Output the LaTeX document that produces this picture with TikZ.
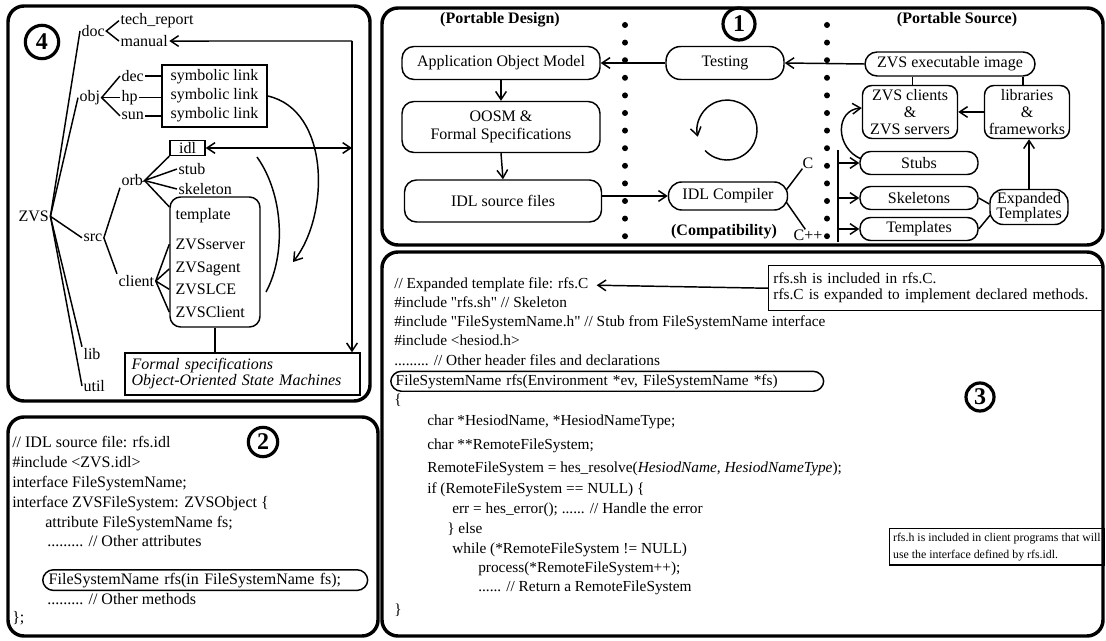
\documentclass[tikz,border=0pt]{standalone}
\usepackage{fontspec}
\setmainfont{Liberation Serif}[Ligatures=TeXOff]
\usetikzlibrary{arrows.meta}
\newcommand{\fsz}[2]{\fontsize{#1}{#2}\selectfont}
\begin{document}
\begin{tikzpicture}[x=0.75pt,y=-0.75pt,
  panel/.style={draw, line width=2.6pt, rounded corners=12pt},
  ln/.style={line width=1.1pt},
  arr/.style={line width=1.1pt, -{Straight Barb[length=6pt,width=8pt]}},
  darr/.style={line width=1.1pt, {Straight Barb[length=6pt,width=8pt]}-{Straight Barb[length=6pt,width=8pt]}},
  pbox/.style={draw, line width=1.1pt, align=center, inner sep=0pt, font=\fsz{12}{13}},
  tt/.style={anchor=base west, inner sep=1pt, font=\fsz{12}{13}},
  code/.style={anchor=base west, inner sep=0pt, font=\fsz{11.5}{13}},
  codeb/.style={anchor=base west, inner sep=0pt, font=\fsz{12}{13}},
  num/.style={circle, draw, line width=2.4pt, inner sep=0pt, font=\bfseries\fsz{18}{18}},
  hdr/.style={font=\bfseries\fsz{12}{13}, inner sep=0pt},
  note/.style={draw, line width=1.1pt, anchor=north west, align=left, inner xsep=3.5pt, inner ysep=2pt},
]
\useasboundingbox (0,0) rectangle (1106,641);
% panels
\draw[panel] (8,6) rectangle (370,401);
\draw[panel] (8,417) rectangle (378,636);
\draw[panel] (382,8) rectangle (1103,245);
\draw[panel] (382,252) rectangle (1103,636);

% ================= panel 1 =================
\node[hdr] (pdes) at (500,20) {(Portable Design)};
\node[hdr] (psrc) at (957,20) {(Portable Source)};
\node[hdr] (compat) at (724,232) {(Compatibility)};
\node[num, minimum size=24pt] (n1) at (739,24) {1};

\foreach \i in {0,...,12} {
  \fill (625,{25+17.6*\i}) circle (3);
  \fill (827,{25+17.6*\i}) circle (3);
}

\node[pbox, rounded corners=9pt, minimum width=148.5pt, minimum height=24.75pt] (aom) at (501,63) {Application Object Model};
\node[pbox, rounded corners=9pt, minimum width=148.5pt, minimum height=38.25pt, font=\fsz{12}{13.5}] (oosm) at (501,127) {OOSM \&\\Formal Specifications};
\node[pbox, rounded corners=9pt, minimum width=147.75pt, minimum height=31.5pt] (idlsrc) at (503,201) {IDL source files};
\node[pbox, rounded corners=11pt, minimum width=88.5pt, minimum height=24.75pt] (test) at (725,63) {Testing};
\node[pbox, rounded corners=9pt, minimum width=127.5pt, minimum height=18pt] (exe) at (950,64) {ZVS executable image};
\node[pbox, rounded corners=7pt, minimum width=71.25pt, minimum height=39.75pt] (cli) at (910,112) {ZVS clients\\\&\\ZVS servers};
\node[pbox, rounded corners=7pt, minimum width=63.75pt, minimum height=39.75pt] (lib) at (1027,112) {libraries\\\&\\frameworks};
\node[pbox, rounded corners=10pt, minimum width=89.25pt, minimum height=21pt] (comp) at (728,196) {IDL Compiler};
\node[pbox, rounded corners=8pt, minimum width=88.5pt, minimum height=17.25pt] (stubs) at (919,163) {Stubs};
\node[pbox, rounded corners=8pt, minimum width=88.5pt, minimum height=17.25pt] (skel) at (919,198) {Skeletons};
\node[pbox, rounded corners=8pt, minimum width=88.5pt, minimum height=17.25pt] (tmpl) at (919,229) {Templates};
\node[pbox, rounded corners=10pt, minimum width=58.5pt, minimum height=26.25pt, font=\fsz{12}{11}] (exp) at (1029,207) {Expanded\\Templates};
\node[inner sep=0pt, font=\fsz{12}{13}] (cl) at (808,163) {C};
\node[inner sep=0pt, font=\fsz{12}{13}] (cpp) at (808,235) {C++};

\draw[arr] (test.west) -- (aom.east);
\draw[arr] (exe.west) -- (test.east);
\draw[arr] (aom.south) -- (oosm.north);
\draw[arr] (oosm.south) -- (idlsrc.north);
\draw[arr] (idlsrc.east |- comp.west) -- (comp.west);
\draw[ln] ([xshift=2pt]cli.north) -- ([xshift=2pt]cli.north |- exe.south);
\draw[ln] ([xshift=-3pt]lib.north) -- ([xshift=-3pt]lib.north |- exe.south);
\draw[arr] (lib.west) -- (cli.east);
\draw[arr] (exp.north) -- (exp.north |- lib.south);
\draw[ln] ([shift={(-2,-6)}]comp.east) -- (cl.south west);
\draw[ln] ([shift={(-2,6)}]comp.east) -- ([xshift=-2pt]cpp.north);
\coordinate (bt) at (838,150);
\coordinate (bb) at (838,242);
\draw[ln] (bt) -- (bb);
\draw[arr] (stubs.west -| bt) -- (stubs.west);
\draw[arr] (skel.west -| bt) -- (skel.west);
\draw[arr] (tmpl.west -| bt) -- (tmpl.west);
\draw[ln] (skel.east) -- ([shift={(0,-3)}]exp.west);
\draw[ln] (tmpl.east) -- ([shift={(1,8)}]exp.west);
\draw[arr] ([shift={(2,-4)}]stubs.west) .. controls (835,148) and (835,110) .. ([yshift=3pt]cli.west);
\coordinate (cyc) at (705.1,150.5);
\draw[arr] (cyc) arc[start angle=137, end angle=-193, radius=30];

% ================= panel 4 =================
\node[num, minimum size=25pt] (n4) at (42,42) {4};
\node[tt] (zvs) at (17,221.5) {ZVS};
\node[tt] (doc) at (80,36.5) {doc};
\node[tt] (techr) at (119,24.5) {tech\_report};
\node[tt] (manual) at (119,46.5) {manual};
\node[tt] (obj) at (78,101.5) {obj};
\node[tt] (dec) at (120,81.5) {dec};
\node[tt] (hp) at (120,101.5) {hp};
\node[tt] (sun) at (120,119.5) {sun};
\node[draw, ln, minimum width=78.75pt, minimum height=46.5pt, align=center, inner sep=0pt, font=\fsz{12}{14.25}] (sym) at (214.5,96) {symbolic link\\symbolic link\\symbolic link};
\node[tt] (orb) at (120,186) {orb};
\node[draw, ln, minimum width=26.25pt, minimum height=11.25pt, inner sep=0pt, font=\fsz{12}{13}] (idl) at (187.5,148) {idl};
\node[tt] (stub) at (177,174.5) {stub};
\node[tt] (skeleton) at (177,194.5) {skeleton};
\node[draw, ln, rounded corners=8pt, minimum width=67.5pt, minimum height=97.5pt] (tbox) at (215,262) {};
\node[tt] (template) at (174,219.5) {template};
\node[tt] (zs) at (174,249.5) {ZVSserver};
\node[tt] (za) at (174,272.5) {ZVSagent};
\node[tt] (zl) at (174,294.5) {ZVSLCE};
\node[tt] (zc) at (174,317.5) {ZVSClient};
\node[tt] (client) at (117,286.5) {client};
\node[tt] (src) at (82,241.5) {src};
\node[tt] (libn) at (82,359.5) {lib};
\node[tt] (util) at (82,391.5) {util};
\node[draw, ln, minimum width=176.25pt, minimum height=31.5pt, align=left, inner xsep=5pt, inner ysep=0pt, text width=166.25pt, font=\itshape\fsz{12}{12}] (formal) at (242.5,374) {Formal specifications\\Object-Oriented State Machines};

\draw[ln] (zvs.east) -- (doc.west);
\draw[ln] (zvs.east) -- (obj.west);
\draw[ln] (zvs.east) -- (src.west);
\draw[ln] (zvs.east) -- (libn.north west);
\draw[ln] (zvs.east) -- (util.west);
\draw[ln] (techr.west) -- (doc.east) -- (manual.west);
\draw[ln] (dec.west) -- (obj.east) -- (sun.west);
\draw[ln] (obj.east) -- (hp.west);
\draw[ln] (dec.east) -- (dec.east -| sym.west);
\draw[ln] (hp.east) -- (hp.east -| sym.west);
\draw[ln] (sun.east) -- (sun.east -| sym.west);
\draw[ln] (orb.south west) -- (src.east) -- (client.north west);
\draw[ln] (idl.south west) -- (orb.east) -- (stub.west);
\draw[ln] (orb.east) -- (skeleton.west);
\draw[ln] (orb.east) -- (tbox.west |- template.north);
\draw[ln] (zs.west -| tbox.west) -- (client.east) -- (zc.west -| tbox.west);
\draw[ln] (client.east) -- (za.west -| tbox.west);
\draw[ln] (client.east) -- (zl.west -| tbox.west);
\draw[ln] (tbox.south) -- (tbox.south |- formal.north);
\coordinate (vtop) at (352,41);
\draw[arr] (vtop) -- (manual.east);
\draw[arr] (vtop) -- (vtop |- formal.north);
\draw[darr] (idl.east) -- (idl.east -| vtop);
\coordinate (symend) at (293,262);
\draw[arr] (sym.east) .. controls (330,110) and (330,215) .. (symend);
\coordinate (cva) at (257,157);
\coordinate (cvb) at (266,292);
\draw[ln] (cva) .. controls (284,195) and (286,255) .. (cvb);

% ================= panel 2 =================
\node[num, minimum size=22pt] (n2) at (263,442) {2};
\node[codeb] (a1) at (12,447) {// IDL source file: rfs.idl};
\node[codeb] (a2) at (12,467) {\#include <ZVS.idl>};
\node[codeb] (a3) at (12,487) {interface FileSystemName;};
\node[codeb] (a4) at (12,507) {interface ZVSFileSystem: ZVSObject \{};
\node[codeb] (a5) at (45,527) {attribute FileSystemName fs;};
\node[codeb] (a6) at (47,546) {......... // Other attributes};
\node[codeb, draw, ln, rounded corners=8pt, inner xsep=4.5pt, inner ysep=2.2pt, text width=234.75pt] (a7) at (42,584) {FileSystemName rfs(in FileSystemName fs);};
\node[codeb] (a8) at (47,604) {......... // Other methods};
\node[codeb] (a9) at (12,622) {\};};

% ================= panel 3 =================
\node[num, minimum size=21pt] (n3) at (980,397) {3};
\node[code] (l0) at (394,289) {// Expanded template file: rfs.C};
\node[code] (l1) at (394,308) {\#include "rfs.sh" // Skeleton};
\node[code] (l2) at (394,327) {\#include "FileSystemName.h" // Stub from FileSystemName interface};
\node[code] (l3) at (394,346) {\#include <hesiod.h>};
\node[code] (l4) at (394,365) {......... // Other header files and declarations};
\node[code, draw, ln, rounded corners=8pt, inner xsep=3.75pt, inner ysep=2.2pt, text width=317.25pt] (l5) at (390,385) {FileSystemName rfs(Environment *ev, FileSystemName *fs)};
\node[code] (l6) at (394,404) {\{};
\node[code] (l7) at (427,425) {char *HesiodName, *HesiodNameType;};
\node[code] (l8) at (427,449) {char **RemoteFileSystem;};
\node[code] (l9) at (427,472) {RemoteFileSystem = hes\_resolve(\textit{HesiodName, HesiodNameType});};
\node[code] (l10) at (427,493) {if (RemoteFileSystem == NULL) \{};
\node[code] (l11) at (452,513) {err = hes\_error(); ...... // Handle the error};
\node[code] (l12) at (447,533) {\} else};
\node[code] (l13) at (452,553) {while (*RemoteFileSystem != NULL)};
\node[code] (l14) at (478,572) {process(*RemoteFileSystem++);};
\node[code] (l15) at (478,591) {...... // Return a RemoteFileSystem};
\node[code] (l16) at (394,614) {\}};

\node[note, text width=243.5pt, minimum height=33.75pt, font=\fsz{11.5}{12}] (cb1) at (768,265) {rfs.sh is included in rfs.C.\\rfs.C is expanded to implement declared methods.};
\node[note, inner xsep=2.5pt, inner ysep=3pt, font=\fsz{8.9}{13}] (cb2) at (889,528) {rfs.h is included in client programs that will\\use the interface defined by rfs.idl.};
\draw[arr] (cb1.west) -- ([xshift=6pt]l0.east);
\end{tikzpicture}
\end{document}
